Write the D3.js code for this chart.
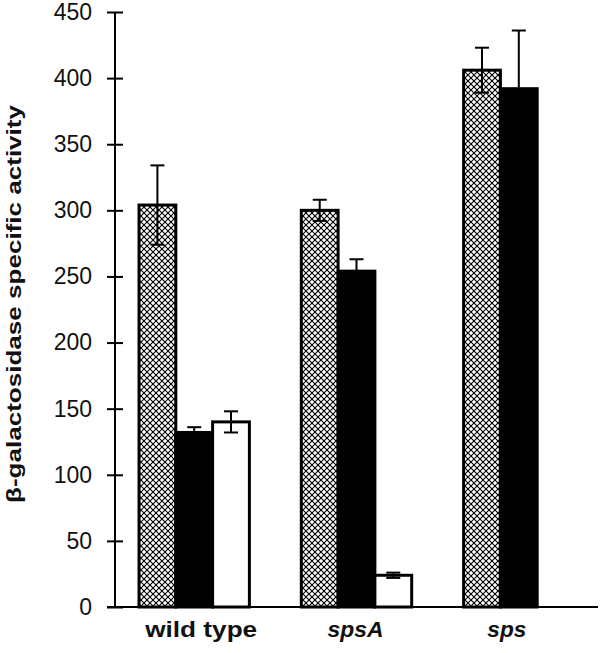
<!DOCTYPE html>
<html>
<head>
<meta charset="utf-8">
<script src="https://cdn.jsdelivr.net/npm/d3@7"></script>
<style>
  html, body { margin: 0; padding: 0; background: #fff; }
  svg { display: block; }
  text { font-family: "Liberation Sans", Arial, sans-serif; }
</style>
</head>
<body>
<svg id="chart" width="600" height="653"></svg>
<script>
// ---- data ----
const groups = ["wild type", "spsA", "sps"];
const seriesNames = ["hatched", "black", "white"];
const hatchedValues = [304, 300, 406];
const hatchedErrors = [30, 8, 17];
const blackValues = [132, 254, 392];
const blackErrors = [4, 9, 44];
const whiteValues = [140, 24, null];
const whiteErrors = [8, 2, null];
const yTicks = [0, 50, 100, 150, 200, 250, 300, 350, 400, 450];
const yLabel = "β-galactosidase specific activity";

// ---- layout ----
const axisX = 115, y0px = 607, yTopPx = 12, xRight = 598;
const svg = d3.select("#chart");

const defs = svg.append("defs");
const pat = defs.append("pattern")
  .attr("id", "hatch").attr("patternUnits", "userSpaceOnUse")
  .attr("width", 6).attr("height", 6);
pat.append("rect").attr("width", 6).attr("height", 6).attr("fill", "#000");
const diamond = (cx, cy, r) => `M${cx},${cy - r}L${cx + r},${cy}L${cx},${cy + r}L${cx - r},${cy}Z`;
[[0,0],[6,0],[0,6],[6,6],[3,3]].forEach(([cx, cy]) => {
  pat.append("path").attr("d", diamond(cx, cy, 2.2)).attr("fill", "#fff");
});

const y = d3.scaleLinear().domain([0, 450]).range([y0px, yTopPx]);
const x = d3.scaleBand().domain(groups).range([axisX, xRight])
  .paddingInner(0.32).paddingOuter(0.148);
const xs = d3.scaleBand().domain(seriesNames).range([0, x.bandwidth()]).padding(0);

const fills = { hatched: "url(#hatch)", black: "#000", white: "#fff" };
const valuesBy = { hatched: hatchedValues, black: blackValues, white: whiteValues };
const errorsBy = { hatched: hatchedErrors, black: blackErrors, white: whiteErrors };

const bars = [];
groups.forEach((g, i) => {
  seriesNames.forEach(s => {
    const v = valuesBy[s][i];
    if (v == null) return;
    bars.push({ g, s, v, e: errorsBy[s][i] });
  });
});

const barG = svg.append("g");
barG.selectAll("rect").data(bars).join("rect")
  .attr("x", d => x(d.g) + xs(d.s))
  .attr("y", d => y(d.v))
  .attr("width", xs.bandwidth())
  .attr("height", d => y(0) - y(d.v))
  .attr("fill", d => fills[d.s])
  .attr("stroke", "#000")
  .attr("stroke-width", 3);

const errG = svg.append("g").attr("stroke", "#000").attr("stroke-width", 2);
bars.forEach(d => {
  const cx = x(d.g) + xs(d.s) + xs.bandwidth() / 2;
  const top = y(d.v + d.e), bot = y(Math.max(0, d.v - d.e));
  errG.append("line").attr("x1", cx).attr("x2", cx).attr("y1", top).attr("y2", bot);
  errG.append("line").attr("x1", cx - 7).attr("x2", cx + 7).attr("y1", top).attr("y2", top);
  errG.append("line").attr("x1", cx - 7).attr("x2", cx + 7).attr("y1", bot).attr("y2", bot);
});

// y axis
const yAxis = d3.axisLeft(y).tickValues(yTicks).tickSizeInner(8).tickSizeOuter(0).tickPadding(15);
const yg = svg.append("g").attr("transform", `translate(${axisX},0)`).call(yAxis);
yg.select(".domain").attr("stroke", "#000").attr("stroke-width", 2)
  .attr("d", `M0,${y(0)}V${y(450)}`);
yg.selectAll(".tick line").attr("stroke", "#000").attr("stroke-width", 2)
  .attr("x1", -8).attr("x2", 8);
yg.selectAll(".tick text").attr("font-size", 23).attr("fill", "#111")
  .attr("font-family", "Liberation Sans, Arial, sans-serif");

// x axis line
svg.append("line").attr("x1", axisX - 8).attr("x2", xRight)
  .attr("y1", y(0)).attr("y2", y(0)).attr("stroke", "#000").attr("stroke-width", 2);

// x labels
const labelShift = [7, -1, -12];
const labelLen = [112, 56, 39];
svg.append("g").selectAll("text").data(groups).join("text")
  .attr("x", (d, i) => x(d) + x.bandwidth() / 2 + labelShift[i])
  .attr("y", 637)
  .attr("text-anchor", "middle")
  .attr("font-size", 22)
  .attr("font-weight", "bold")
  .attr("font-style", (d, i) => i === 0 ? "normal" : "italic")
  .attr("textLength", (d, i) => labelLen[i])
  .attr("lengthAdjust", "spacingAndGlyphs")
  .attr("fill", "#111")
  .text(d => d);

// y label
svg.append("text")
  .attr("transform", "translate(21,304) rotate(-90)")
  .attr("text-anchor", "middle")
  .attr("font-size", 20)
  .attr("font-weight", "bold")
  .attr("textLength", 398)
  .attr("lengthAdjust", "spacingAndGlyphs")
  .attr("fill", "#111")
  .text(yLabel);
</script>
</body>
</html>
